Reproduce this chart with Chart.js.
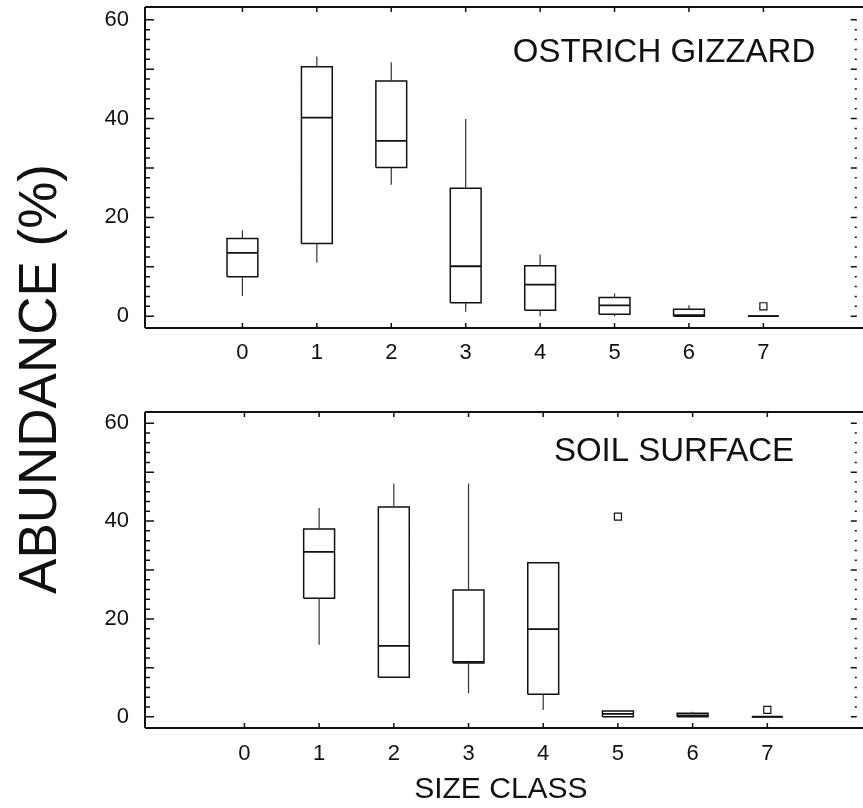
<!DOCTYPE html>
<html>
<head>
<meta charset="utf-8">
<script src="https://cdn.jsdelivr.net/npm/chart.js@4.4.0/dist/chart.umd.min.js"></script>
<style>
  body { margin: 0; background: #fff; }
  #wrap { position: relative; width: 863px; height: 808px; overflow: hidden; }
  canvas { position: absolute; left: 0; }
  #topChart { top: 0; }
  #bottomChart { top: 380px; }
  #yTitle {
    position: absolute; left: -212px; top: 349px; width: 500px; height: 60px;
    line-height: 60px; text-align: center; transform: rotate(-90deg);
    font-family: "Liberation Sans", Arial, Helvetica, sans-serif; font-size: 53px; color: #111;
  }
</style>
</head>
<body>
<div id="wrap">
  <canvas id="topChart" width="863" height="380"></canvas>
  <canvas id="bottomChart" width="863" height="428"></canvas>
  <div id="yTitle">ABUNDANCE (%)</div>
</div>
<script>
// --- Data ---
const sizeClasses = [0, 1, 2, 3, 4, 5, 6, 7];
const yTickLabels = [0, 20, 40, 60];
const yMinorStep = 2;

// Ostrich gizzard
const gizzardLow    = [4.1, 10.8, 26.6, 0.9, 0, 0, 0, 0];
const gizzardQ1     = [8.0, 14.7, 30.1, 2.7, 1.2, 0.4, 0, 0];
const gizzardMedian = [12.8, 40.2, 35.5, 10.1, 6.4, 2.2, 0.2, 0];
const gizzardQ3     = [15.7, 50.5, 47.6, 25.9, 10.2, 3.8, 1.4, 0];
const gizzardHigh   = [17.4, 52.6, 51.4, 39.9, 12.5, 4.6, 2.2, 0];
const gizzardOutliers = [{ x: 7, y: 2.0 }];

// Soil surface (no class 0 sample)
const soilLow    = [null, 14.7, 8.1, 4.8, 1.4, 0, 0, 0];
const soilQ1     = [null, 24.2, 8.1, 11.0, 4.6, 0, 0, 0];
const soilMedian = [null, 33.7, 14.5, 11.2, 17.9, 0.6, 0.3, 0];
const soilQ3     = [null, 38.4, 42.9, 25.9, 31.5, 1.2, 0.7, 0];
const soilHigh   = [null, 42.7, 47.7, 47.7, 31.5, 1.2, 1.0, 0];
const soilOutliers = [{ x: 5, y: 40.9 }, { x: 7, y: 1.4 }];

// --- Style ---
const FONT = '"Liberation Sans", Arial, Helvetica, sans-serif';
const INK = '#111';
const HALF_BOX = 0.207;

// --- Dataset builders ---
const buildBoxes = (q1, q3) => {
  const pts = [];
  sizeClasses.forEach((c, i) => {
    if (q1[i] === null) return;
    pts.push({ x: c - HALF_BOX, y: q1[i] }, { x: c + HALF_BOX, y: q1[i] },
             { x: c + HALF_BOX, y: q3[i] }, { x: c - HALF_BOX, y: q3[i] },
             { x: c - HALF_BOX, y: q1[i] }, { x: c, y: null });
  });
  return pts;
};

const buildMedians = (med) => {
  const pts = [];
  sizeClasses.forEach((c, i) => {
    if (med[i] === null) return;
    pts.push({ x: c - HALF_BOX, y: med[i] }, { x: c + HALF_BOX, y: med[i] }, { x: c, y: null });
  });
  return pts;
};

const buildWhiskers = (low, q1, q3, high) => {
  const pts = [];
  sizeClasses.forEach((c, i) => {
    if (low[i] === null) return;
    if (low[i] < q1[i]) pts.push({ x: c, y: low[i] }, { x: c, y: q1[i] }, { x: c, y: null });
    if (high[i] > q3[i]) pts.push({ x: c, y: q3[i] }, { x: c, y: high[i] }, { x: c, y: null });
  });
  return pts;
};

// --- Frame, inward ticks and panel label ---
const framePlugin = {
  id: 'frame',
  afterDraw(chart, args, opts) {
    const { ctx, chartArea: a, scales } = chart;
    const right = chart.width;
    ctx.save();
    ctx.strokeStyle = INK;
    ctx.lineWidth = 2;
    ctx.beginPath();
    ctx.moveTo(a.left, a.top); ctx.lineTo(right, a.top);
    ctx.moveTo(a.left, a.bottom); ctx.lineTo(right, a.bottom);
    ctx.moveTo(a.left, a.top); ctx.lineTo(a.left, a.bottom);
    ctx.stroke();

    ctx.lineWidth = 1.5;
    ctx.beginPath();
    scales.y.ticks.forEach(t => {
      const py = scales.y.getPixelForValue(t.value);
      const major = t.value % 10 === 0;
      ctx.moveTo(a.left, py); ctx.lineTo(a.left + (major ? 9 : 5), py);
      ctx.moveTo(a.right, py); ctx.lineTo(a.right - (major ? 6 : 2), py);
    });
    scales.x.ticks.forEach(t => {
      const px = scales.x.getPixelForValue(t.value);
      ctx.moveTo(px, a.top); ctx.lineTo(px, a.top + 5);
      ctx.moveTo(px, a.bottom); ctx.lineTo(px, a.bottom - 5);
    });
    ctx.stroke();

    ctx.fillStyle = INK;
    ctx.font = '33px ' + FONT;
    ctx.textAlign = 'center';
    ctx.textBaseline = 'middle';
    ctx.fillText(opts.text, a.left + opts.dx, a.top + opts.dy);
    ctx.restore();
  }
};

const noEdgePadding = s => {
  s.paddingTop = 0; s.paddingBottom = 0; s.paddingLeft = 0; s.paddingRight = 0;
};

const makePanel = (canvasId, p) => {
  const ctx = document.getElementById(canvasId).getContext('2d');
  return new Chart(ctx, {
    type: 'scatter',
    data: {
      datasets: [
        { data: buildWhiskers(p.low, p.q1, p.q3, p.high), showLine: true, borderColor: '#333',
          borderWidth: 1.2, pointRadius: 0 },
        { data: buildBoxes(p.q1, p.q3), showLine: true, borderColor: INK, borderWidth: 1.5,
          borderJoinStyle: 'miter', pointRadius: 0 },
        { data: buildMedians(p.median), showLine: true, borderColor: INK, borderWidth: 1.8,
          pointRadius: 0 },
        { data: p.outliers, pointStyle: 'rect', pointRadius: 5, borderColor: INK,
          backgroundColor: '#fff', borderWidth: 1.2 }
      ]
    },
    options: {
      responsive: false,
      animation: false,
      layout: { padding: { top: p.padTop, right: 2, left: 0, bottom: 0 } },
      plugins: {
        legend: { display: false },
        tooltip: { enabled: false },
        frame: { text: p.title, dx: p.titleDx, dy: p.titleDy }
      },
      scales: {
        x: {
          type: 'linear', min: p.xMin, max: p.xMax,
          afterBuildTicks: s => { s.ticks = sizeClasses.map(v => ({ value: v })); },
          afterFit: s => { s.height = p.xHeight; noEdgePadding(s); },
          grid: { display: false, drawTicks: false },
          border: { display: false },
          ticks: { padding: p.xPad, color: INK, font: { family: FONT, size: 22 } },
          title: p.xTitle
            ? { display: true, text: p.xTitle, color: INK, padding: 0, font: { family: FONT, size: 30 } }
            : { display: false }
        },
        y: {
          min: p.yMin, max: p.yMax,
          afterBuildTicks: s => {
            const t = [];
            for (let v = 0; v <= 60; v += yMinorStep) t.push({ value: v });
            s.ticks = t;
          },
          afterFit: s => { s.width = 145; noEdgePadding(s); },
          grid: { display: false, drawTicks: false },
          border: { display: false },
          ticks: {
            autoSkip: false, padding: 16, color: INK, font: { family: FONT, size: 22 },
            callback: v => yTickLabels.includes(v) ? String(v) : ''
          }
        }
      }
    },
    plugins: [framePlugin]
  });
};

makePanel('topChart', {
  low: gizzardLow, q1: gizzardQ1, median: gizzardMedian, q3: gizzardQ3, high: gizzardHigh,
  outliers: gizzardOutliers, title: 'OSTRICH GIZZARD', titleDx: 519, titleDy: 46,
  padTop: 7, xHeight: 52, xPad: 12, xMin: -1.309, xMax: 8.255, yMin: -2.4, yMax: 62.6
});

makePanel('bottomChart', {
  low: soilLow, q1: soilQ1, median: soilMedian, q3: soilQ3, high: soilHigh,
  outliers: soilOutliers, title: 'SOIL SURFACE', titleDx: 529, titleDy: 40,
  padTop: 32, xHeight: 80, xPad: 13, xTitle: 'SIZE CLASS',
  xMin: -1.331, xMax: 8.198, yMin: -2.3, yMax: 62.3
});
</script>
</body>
</html>
